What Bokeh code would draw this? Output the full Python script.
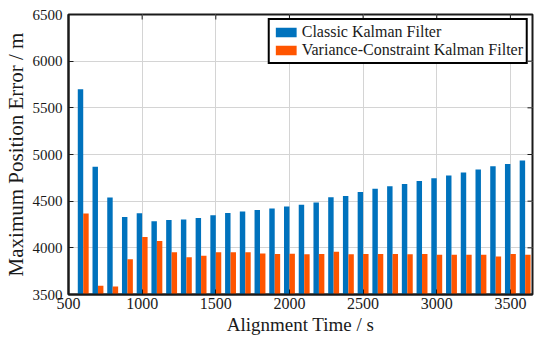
import math
from bokeh.plotting import figure
from bokeh.models import Range1d, Legend, LegendItem
from bokeh.embed import file_html
from bokeh.resources import INLINE

times = list(range(600, 3700, 100))
classic = [5700, 4870, 4540, 4330, 4370, 4285, 4297, 4304, 4320, 4350, 4373,
           4388, 4405, 4422, 4443, 4461, 4485, 4541, 4555, 4598, 4632, 4660,
           4685, 4716, 4745, 4776, 4808, 4839, 4874, 4898, 4937]
vc = [4367, 3593, 3586, 3877, 4115, 4073, 3953, 3898, 3916, 3953, 3953,
      3953, 3940, 3933, 3937, 3930, 3933, 3957, 3930, 3933, 3933, 3933,
      3930, 3933, 3926, 3926, 3926, 3926, 3908, 3933, 3926]
x_ticks = [500, 1000, 1500, 2000, 2500, 3000, 3500]
y_ticks = [3500, 4000, 4500, 5000, 5500, 6000, 6500]
series_names = ["Classic Kalman Filter", "Variance-Constraint Kalman Filter"]
x_min, x_max = 500, 3650
y_min, y_max = 3500, 6500

FONT = "Liberation Serif"
AX = "#1a1a1a"

p = figure(width=534, height=337, output_backend="svg", toolbar_location=None,
           x_range=Range1d(x_min, x_max), y_range=Range1d(y_min, y_max),
           min_border_left=0, min_border_right=2, min_border_top=14, min_border_bottom=0)

off = 18.5
bw = 37
r1 = p.vbar(x=[t - off for t in times], top=classic, bottom=0, width=bw,
            fill_color="#0072BD", line_color=None)
r2 = p.vbar(x=[t + off for t in times], top=vc, bottom=0, width=bw,
            fill_color="#FF5500", line_color=None)

p.outline_line_color = AX
p.outline_line_width = 2
p.outline_line_alpha = 1

for ax in (p.xaxis[0], p.yaxis[0]):
    ax.major_tick_in = 5
    ax.major_tick_out = 0
    ax.minor_tick_in = 0
    ax.minor_tick_out = 0
    ax.axis_line_color = AX
    ax.axis_line_width = 2
    ax.major_tick_line_color = AX
    ax.major_label_text_font = FONT
    ax.major_label_text_color = AX
    ax.axis_label_text_font = FONT
    ax.axis_label_text_font_style = "normal"
    ax.axis_label_text_color = AX

p.xaxis.ticker = x_ticks
p.yaxis.ticker = y_ticks
p.xaxis.axis_label = "Alignment Time / s"
p.yaxis.axis_label = "Maximum Position Error / m"
p.xaxis.major_label_text_font_size = "16px"
p.yaxis.major_label_text_font_size = "15px"
p.xaxis.axis_label_text_font_size = "19px"
p.yaxis.axis_label_text_font_size = "21px"
p.xaxis.major_label_standoff = 3
p.yaxis.major_label_standoff = 6
p.xaxis.axis_label_standoff = 2
p.yaxis.axis_label_standoff = 2

# tick marks on the top and right edges of the box
p.ray(x=x_ticks, y=[y_max] * len(x_ticks), length=5, length_units="screen",
      angle=-math.pi / 2, line_color=AX, line_width=1)
p.ray(x=[x_max] * len(y_ticks), y=y_ticks, length=5, length_units="screen",
      angle=math.pi, line_color=AX, line_width=1)

p.xgrid.ticker = x_ticks
p.ygrid.ticker = y_ticks
p.grid.grid_line_color = "#d4d4d4"
p.grid.grid_line_width = 1

legend = Legend(items=[LegendItem(label=series_names[0], renderers=[r1]),
                       LegendItem(label=series_names[1], renderers=[r2])],
                location="top_right")
legend.label_text_font = FONT
legend.label_text_font_size = "16px"
legend.label_text_line_height = 1.0
legend.label_text_color = AX
legend.glyph_width = 26
legend.glyph_height = 12
legend.label_height = 17
legend.label_standoff = 3
legend.spacing = 0
legend.padding = 3
legend.margin = 4
legend.border_line_color = "black"
legend.border_line_width = 2
legend.border_line_alpha = 1.0
legend.background_fill_color = "white"
legend.background_fill_alpha = 1
p.add_layout(legend, "center")

open("out.html", "w").write(file_html(p, INLINE))
